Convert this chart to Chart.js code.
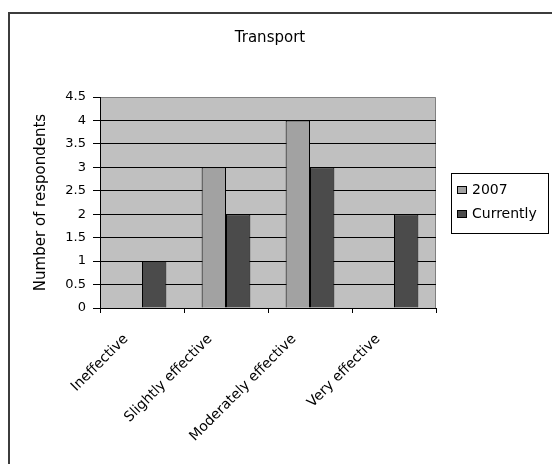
<!DOCTYPE html>
<html>
<head>
<meta charset="utf-8">
<script src="https://cdn.jsdelivr.net/npm/chart.js@4.4.1/dist/chart.umd.min.js"></script>
<style>
  html, body { margin: 0; padding: 0; background: #fff; }
  #wrap { width: 552px; height: 464px; position: relative; }
</style>
</head>
<body>
<div id="wrap"><canvas id="c" width="552" height="464"></canvas></div>
<script>
// Survey responses on transport measures
const categories = ['Ineffective', 'Slightly effective', 'Moderately effective', 'Very effective'];
const seriesNames = ['2007', 'Currently'];
const values2007 = [0, 3, 4, 0];
const valuesCurrently = [1, 2, 3, 2];
const yTicks = [0, 0.5, 1, 1.5, 2, 2.5, 3, 3.5, 4, 4.5];

const FONT = "'DejaVu Sans', Verdana, sans-serif";

// Outer frame, grey plot panel and boxed legend
const decor = {
  id: 'decor',
  beforeDraw(chart) {
    const { ctx, chartArea: a } = chart;
    ctx.save();
    ctx.fillStyle = '#fff';
    ctx.fillRect(0, 0, chart.width, chart.height);
    ctx.strokeStyle = '#3c3c3c';
    ctx.lineWidth = 2;
    ctx.beginPath();
    ctx.moveTo(9, chart.height + 2);
    ctx.lineTo(9, 13);
    ctx.lineTo(chart.width + 2, 13);
    ctx.stroke();
    ctx.fillStyle = '#c0c0c0';
    ctx.fillRect(a.left, a.top, a.right - a.left, a.bottom - a.top);
    ctx.strokeStyle = '#808080';
    ctx.lineWidth = 1;
    ctx.beginPath();
    ctx.moveTo(a.left, a.top + 0.5);
    ctx.lineTo(a.right - 0.5, a.top + 0.5);
    ctx.lineTo(a.right - 0.5, a.bottom);
    ctx.stroke();
    ctx.restore();
  },
  afterDraw(chart) {
    const { ctx } = chart;
    const a = chart.chartArea;
    const bx = 451, bw = 97, bh = 60;
    const by = Math.round((a.top + a.bottom) / 2 - bh / 2);
    ctx.save();
    ctx.strokeStyle = '#000';
    ctx.lineWidth = 1;
    ctx.strokeRect(bx + 0.5, by + 0.5, bw, bh);
    ctx.font = '14px ' + FONT;
    ctx.textBaseline = 'middle';
    chart.data.datasets.forEach((ds, i) => {
      const cy = by + 17 + i * 24;
      ctx.fillStyle = ds.backgroundColor;
      ctx.fillRect(bx + 6.5, cy - 3.5, 9, 7);
      ctx.strokeRect(bx + 6.5, cy - 3.5, 9, 7);
      ctx.fillStyle = '#000';
      ctx.fillText(ds.label, bx + 21, cy);
    });
    ctx.restore();
  }
};

new Chart(document.getElementById('c'), {
  type: 'bar',
  data: {
    labels: categories,
    datasets: [
      { label: seriesNames[0], data: values2007, backgroundColor: '#a2a2a2', borderColor: '#000', borderWidth: 1 },
      { label: seriesNames[1], data: valuesCurrently, backgroundColor: '#4b4b4b', borderColor: '#000', borderWidth: 1 }
    ]
  },
  options: {
    responsive: false,
    animation: false,
    events: [],
    layout: { padding: { left: 0, right: 12, top: 0, bottom: 0 } },
    datasets: { bar: { categoryPercentage: 0.58, barPercentage: 1 } },
    plugins: {
      legend: { display: false },
      tooltip: { enabled: false },
      title: {
        display: true,
        text: 'Transport',
        color: '#000',
        font: { family: FONT, size: 15, weight: 'normal' },
        padding: { top: 29, bottom: 50 }
      }
    },
    scales: {
      x: {
        grid: { offset: true, drawOnChartArea: false, tickLength: 5, color: '#000', tickColor: '#000' },
        border: { display: true, color: '#000', width: 1 },
        ticks: {
          color: '#000',
          font: { family: FONT, size: 14 },
          minRotation: 45, maxRotation: 45,
          padding: 18,
          labelOffset: -16,
          autoSkip: false
        },
        afterFit(scale) { scale.height = 156; }
      },
      y: {
        min: 0, max: 4.5,
        afterBuildTicks(scale) { scale.ticks = yTicks.map(v => ({ value: v })); },
        grid: {
          color: ctx => (ctx.tick && ctx.tick.value === 4.5) ? 'rgba(0,0,0,0)' : '#000',
          tickColor: '#000',
          tickLength: 7,
          lineWidth: 1
        },
        border: { display: true, color: '#000', width: 1 },
        ticks: {
          color: '#000',
          font: { family: FONT, size: 13 },
          padding: 7,
          callback: v => String(v)
        },
        title: {
          display: true,
          text: 'Number of respondents',
          color: '#000',
          font: { family: FONT, size: 15 },
          padding: { top: 32, bottom: 0 }
        },
        afterFit(scale) { scale.width = 100; }
      },
      // empty right-hand band that holds the legend box
      legendBand: {
        type: 'linear',
        position: 'right',
        display: true,
        grid: { display: false, drawOnChartArea: false },
        border: { display: false },
        ticks: { display: false },
        afterFit(scale) { scale.width = 104; }
      }
    }
  },
  plugins: [decor]
});
</script>
</body>
</html>
